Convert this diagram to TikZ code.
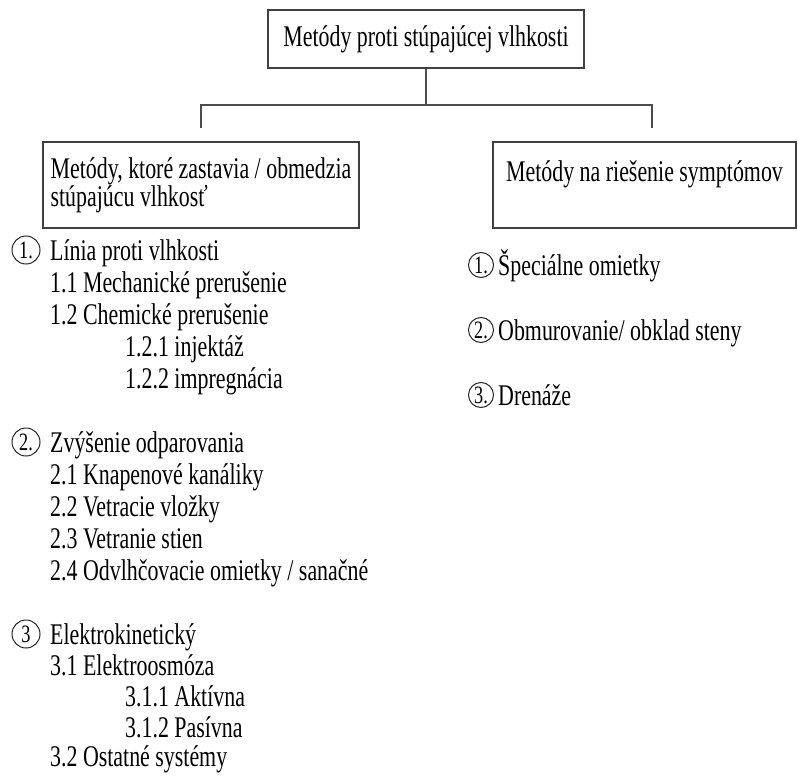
\documentclass[tikz,border=0pt]{standalone}
\usepackage{fontspec}
\setmainfont{Liberation Serif}[FakeStretch=0.73]
\usetikzlibrary
  {
    positioning, % place nodes relative to other nodes
    calc,
  }

\tikzset{
  box/.style={draw=black!75, line width=1.3pt, inner xsep=6pt, inner ysep=0pt},
  item/.style={anchor=west, inner sep=0pt, text height=20pt, text depth=0pt},
  num/.style={circle, draw=black!85, line width=1pt, inner sep=0pt,
    minimum size=28pt, font=\fontsize{25}{25}\selectfont},
  link/.style={draw=black!70, line width=1.3pt},
}

\begin{document}
\begin{tikzpicture}[x=1pt, y=-1pt, font=\fontsize{30}{28}\selectfont]
  \useasboundingbox (0,0) rectangle (798,776);

  % the three boxes
  \node[box, minimum width=316pt, minimum height=58pt] (top) at (426,39)
    {Metódy proti stúpajúcej vlhkosti};
  \node[box, minimum width=316pt, minimum height=86pt, align=left]
    (stop) at (201,185) {Metódy, ktoré zastavia / obmedzia\\stúpajúcu vlhkosť};
  \node[box, minimum width=303pt, minimum height=86pt, align=left]
    (symp) at (644.5,185) {Metódy na riešenie symptómov\\\mbox{}};

  % connector, its ends stop short of the boxes
  \coordinate (jn) at (top.south |- 0,105);
  \coordinate (lt) at (201,128);
  \coordinate (rt) at (652,128);
  \draw[link] (top.south) -- (jn);
  \draw[link] (lt) |- (jn) -| (rt);

  % left list
  \foreach \x/\y/\txt [count=\i] in {
      50/250/{Línia proti vlhkosti},
      50/282/{1.1 Mechanické prerušenie},
      50/314/{1.2 Chemické prerušenie},
      125/346/{1.2.1 injektáž},
      125/378/{1.2.2 impregnácia},
      50/442/{Zvýšenie odparovania},
      50/474/{2.1 Knapenové kanáliky},
      50/506/{2.2 Vetracie vložky},
      50/538/{2.3 Vetranie stien},
      50/570/{2.4 Odvlhčovacie omietky / sanačné},
      50/634/{Elektrokinetický},
      50/665/{3.1 Elektroosmóza},
      125/696/{3.1.1 Aktívna},
      125/727/{3.1.2 Pasívna},
      50/756/{3.2 Ostatné systémy}}
    \node[item] (left\i) at (\x,\y) {\txt};

  \node[num] (ln1) at (26,250) {1.};
  \node[num] (ln2) at (26,442) {2.};
  \node[num] (ln3) at (26,634) {3};

  % right list
  \foreach \y/\txt/\n [count=\i] in {
      265/{Špeciálne omietky}/1.,
      330/{Obmurovanie/ obklad steny}/2.,
      395/{Drenáže}/3.}
  {
    \node[item] (right\i) at (498,\y) {\txt};
    \node[num, minimum size=25pt] (rn\i) at (481,\y) {\n};
  }
\end{tikzpicture}
\end{document}
